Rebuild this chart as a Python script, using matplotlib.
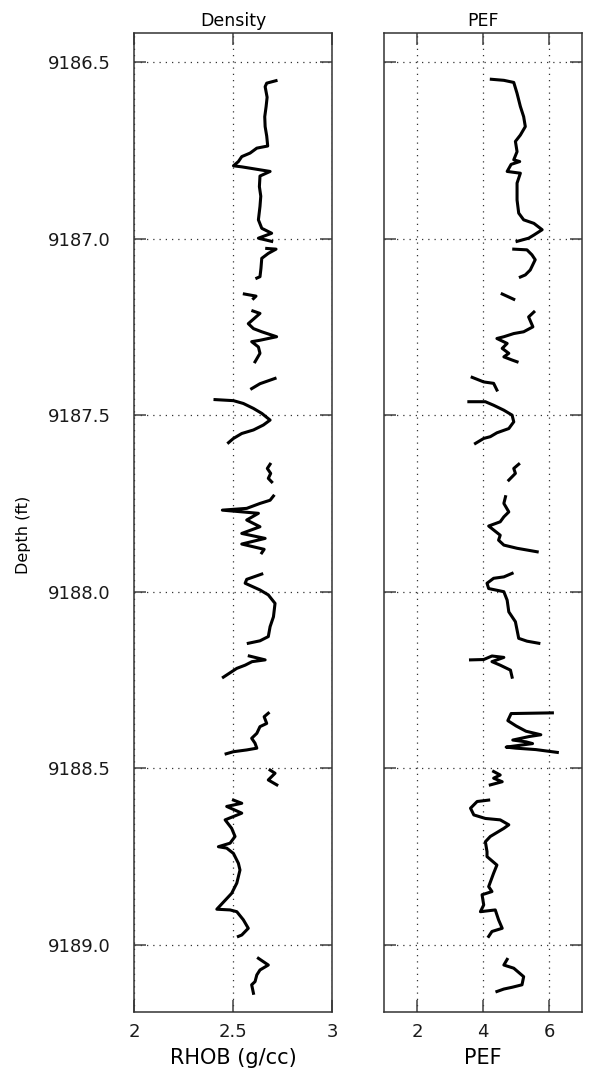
import numpy as np
import matplotlib.pyplot as plt

nan = np.nan

# Density log (RHOB, g/cc), NaN = gap in the trace
rhob_depth = [
    9186.553, 9186.560, 9186.570, 9186.600, 9186.626, 9186.655, 9186.683, 9186.710,
    9186.738, 9186.744, 9186.758,
    9186.768, 9186.782, 9186.794, 9186.797, 9186.810, 9186.823, 9186.853, 9186.880,
    9186.909, 9186.947, 9186.971, 9186.985, 9186.999, 9187.008, nan,
    9187.028, 9187.030, 9187.042, 9187.056, 9187.084, 9187.108, 9187.112, nan,
    9187.157, 9187.163, 9187.170, nan,
    9187.205, 9187.212, 9187.241, 9187.255, 9187.264, 9187.278, 9187.288, 9187.292,
    9187.307, 9187.325, 9187.349, nan,
    9187.396, 9187.411, 9187.425, nan,
    9187.456, 9187.459, 9187.467, 9187.481, 9187.495, 9187.514, 9187.528, 9187.542,
    9187.552, 9187.566, 9187.578, nan,
    9187.639, 9187.651, 9187.665, 9187.679, 9187.689, nan,
    9187.729, 9187.741, 9187.750, 9187.764, 9187.769, 9187.774, 9187.778, 9187.797,
    9187.816, 9187.835, 9187.849, 9187.865, 9187.880, 9187.890, nan,
    9187.950, 9187.965, 9187.976, 9187.995, 9188.009, 9188.033, 9188.071, 9188.099,
    9188.127, 9188.139, 9188.146, nan,
    9188.182, 9188.193, 9188.198, 9188.208, 9188.217, 9188.236, 9188.242, nan,
    9188.344, 9188.354, 9188.373, 9188.382, 9188.401, 9188.415, 9188.429, 9188.443,
    9188.448, 9188.453, 9188.459, nan,
    9188.505, 9188.514, 9188.533, 9188.547, nan,
    9188.590, 9188.599, 9188.608, 9188.627, 9188.646, 9188.670, 9188.693, 9188.712,
    9188.722, 9188.726, 9188.741, 9188.769, 9188.788, 9188.825, 9188.854, 9188.899,
    9188.901, 9188.906, 9188.929, 9188.953, 9188.972, 9188.976, nan,
    9189.038, 9189.057, 9189.071, 9189.085, 9189.104, 9189.113, 9189.137,
]
rhob = [
    2.717, 2.670, 2.662, 2.672, 2.667, 2.660, 2.662, 2.670,
    2.675, 2.620, 2.586,
    2.544, 2.527, 2.502, 2.544, 2.687, 2.636, 2.633, 2.640,
    2.636, 2.628, 2.645, 2.695, 2.628, 2.695, nan,
    2.670, 2.717, 2.678, 2.645, 2.641, 2.636, 2.620, nan,
    2.557, 2.616, 2.603, nan,
    2.600, 2.636, 2.577, 2.603, 2.645, 2.720, 2.636, 2.594,
    2.628, 2.636, 2.611, nan,
    2.712, 2.636, 2.594, nan,
    2.409, 2.502, 2.552, 2.603, 2.645, 2.687, 2.653, 2.603,
    2.544, 2.502, 2.477, nan,
    2.687, 2.673, 2.690, 2.678, 2.695, nan,
    2.704, 2.687, 2.636, 2.569, 2.446, 2.544, 2.628, 2.569,
    2.636, 2.544, 2.662, 2.544, 2.657, 2.645, nan,
    2.645, 2.569, 2.561, 2.636, 2.678, 2.712, 2.704, 2.687,
    2.678, 2.636, 2.577, nan,
    2.582, 2.662, 2.596, 2.561, 2.519, 2.468, 2.451, nan,
    2.678, 2.657, 2.670, 2.636, 2.620, 2.594, 2.611, 2.620,
    2.569, 2.502, 2.465, nan,
    2.687, 2.712, 2.678, 2.721, nan,
    2.502, 2.544, 2.468, 2.544, 2.460, 2.493, 2.510, 2.485,
    2.426, 2.468, 2.502, 2.527, 2.535, 2.519, 2.493, 2.418,
    2.485, 2.519, 2.552, 2.577, 2.544, 2.527, nan,
    2.628, 2.678, 2.636, 2.620, 2.611, 2.594, 2.603,
]

# Photoelectric factor log (PEF)
pef_depth = [
    9186.549, 9186.552, 9186.558, 9186.589, 9186.626, 9186.655, 9186.683, 9186.707,
    9186.725, 9186.754, 9186.777, 9186.782, 9186.790, 9186.810, 9186.815, 9186.843,
    9186.891, 9186.928, 9186.947, 9186.957, 9186.975, 9186.990, 9186.999, 9187.008, nan,
    9187.030, 9187.032, 9187.046, 9187.060, 9187.089, 9187.103, 9187.109, nan,
    9187.157, 9187.172, nan,
    9187.208, 9187.222, 9187.250, 9187.264, 9187.269, 9187.278, 9187.283, 9187.297,
    9187.311, 9187.325, 9187.335, 9187.344, 9187.349, nan,
    9187.393, 9187.406, 9187.410, 9187.429, nan,
    9187.462, 9187.462, 9187.472, 9187.486, 9187.500, 9187.519, 9187.538, 9187.550,
    9187.561, 9187.566, 9187.580, nan,
    9187.639, 9187.651, 9187.665, 9187.684, nan,
    9187.731, 9187.750, 9187.774, 9187.788, 9187.802, 9187.814, 9187.825, 9187.840,
    9187.854, 9187.868, 9187.877, 9187.887, nan,
    9187.948, 9187.958, 9187.962, 9187.976, 9187.991, 9188.000, 9188.024, 9188.057,
    9188.085, 9188.108, 9188.132, 9188.140, 9188.146, nan,
    9188.193, 9188.192, 9188.182, 9188.186, 9188.198, 9188.208, 9188.222, 9188.242, nan,
    9188.343, 9188.345, 9188.365, 9188.380, 9188.395, 9188.405, 9188.410, 9188.420,
    9188.425, 9188.430, 9188.440, 9188.443, 9188.447, 9188.455, nan,
    9188.509, 9188.519, 9188.528, 9188.538, 9188.547, nan,
    9188.590, 9188.594, 9188.613, 9188.632, 9188.642, 9188.646, 9188.660, 9188.670,
    9188.693, 9188.708, 9188.736, 9188.750, 9188.774, 9188.797, 9188.835, 9188.849,
    9188.858, 9188.887, 9188.906, 9188.901, 9188.929, 9188.953, 9188.962, 9188.976, nan,
    9189.041, 9189.057, 9189.066, 9189.090, 9189.113, 9189.120, 9189.125, 9189.132,
]
pef = [
    4.25, 4.63, 4.93, 5.03, 5.13, 5.23, 5.28, 5.13,
    4.98, 5.03, 4.93, 5.11, 4.85, 4.73, 5.13, 5.03,
    5.03, 5.08, 5.23, 5.54, 5.79, 5.54, 5.38, 5.03, nan,
    4.93, 5.33, 5.48, 5.58, 5.43, 5.28, 5.13, nan,
    4.58, 4.93, nan,
    5.54, 5.38, 5.51, 5.23, 4.93, 4.63, 4.42, 4.73,
    4.58, 4.78, 4.63, 4.88, 5.03, nan,
    3.67, 4.02, 4.32, 4.42, nan,
    3.57, 4.07, 4.32, 4.63, 4.88, 4.93, 4.78, 4.42,
    4.22, 4.02, 3.77, nan,
    5.08, 4.93, 4.98, 4.78, nan,
    4.68, 4.63, 4.78, 4.63, 4.52, 4.17, 4.32, 4.52,
    4.47, 4.63, 5.03, 5.64, nan,
    4.88, 4.63, 4.32, 4.12, 4.17, 4.63, 4.73, 4.78,
    4.98, 5.03, 5.08, 5.33, 5.69, nan,
    3.62, 4.02, 4.27, 4.63, 4.27, 4.52, 4.83, 4.88, nan,
    6.10, 4.85, 4.75, 5.00, 5.30, 5.75, 5.40, 4.90,
    5.30, 5.50, 4.70, 5.00, 5.60, 6.25, nan,
    4.32, 4.52, 4.32, 4.58, 4.22, nan,
    4.17, 3.82, 3.62, 3.72, 4.07, 4.52, 4.78, 4.63,
    4.22, 4.07, 4.12, 4.12, 4.42, 4.32, 4.17, 4.27,
    3.97, 4.02, 3.92, 4.37, 4.47, 4.58, 4.27, 4.17, nan,
    4.73, 4.63, 4.93, 5.23, 5.18, 4.88, 4.63, 4.42,
]

depth_ticks = [9186.5, 9187.0, 9187.5, 9188.0, 9188.5, 9189.0]
depth_lim = (9189.19, 9186.418)

fig = plt.figure(figsize=(5.93, 10.82), dpi=100)
ax1 = fig.add_axes([0.226, 0.0647, 0.334, 0.9048])
ax2 = fig.add_axes([0.6476, 0.0647, 0.334, 0.9048])

ax1.plot(rhob, rhob_depth, color='black', linewidth=2.2)
ax2.plot(pef, pef_depth, color='black', linewidth=2.2)

ax1.set_xlim(2, 3)
ax1.set_xticks([2, 2.5, 3])
ax1.set_xticklabels(['2', '2.5', '3'])
ax2.set_xlim(1, 7)
ax2.set_xticks([2, 4, 6])

for ax in (ax1, ax2):
    ax.set_ylim(*depth_lim)
    ax.set_yticks(depth_ticks)
    ax.grid(True, linestyle=(0, (1, 4)), color='0.2', linewidth=0.9)
    ax.tick_params(direction='in', top=True, right=True, length=8.5, width=1.1,
                   labelsize=13, color='0.25', labelcolor='0.1')
    ax.tick_params(axis='y', pad=17)
    ax.tick_params(axis='x', pad=8)
    for s in ax.spines.values():
        s.set_linewidth(1.1)
        s.set_color('0.2')

ax1.set_yticklabels(['%.1f' % d for d in depth_ticks])
ax2.set_yticklabels([])

ax1.set_title('Density', fontsize=12.5, pad=5)
ax2.set_title('PEF', fontsize=12.5, pad=5)
ax1.set_xlabel('RHOB (g/cc)', fontsize=15, labelpad=5)
ax2.set_xlabel('PEF', fontsize=15, labelpad=5)
fig.text(24 / 593, 1 - 535 / 1082, 'Depth (ft)', rotation=90, ha='center', va='center',
         fontsize=11.5)

fig.savefig('out.png', dpi=100)
